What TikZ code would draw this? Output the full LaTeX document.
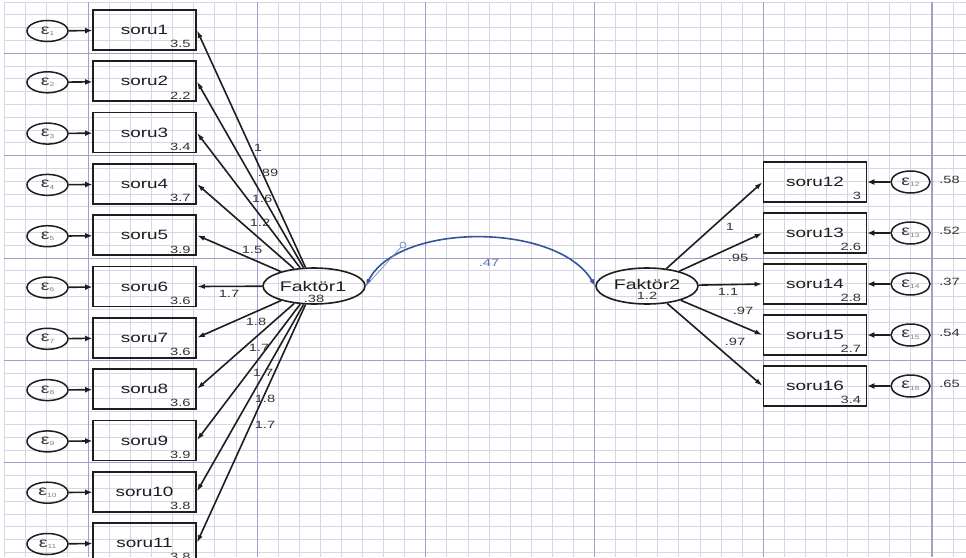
\documentclass[tikz,border=0pt]{standalone}
\usepackage{fontspec}
\setmainfont{Liberation Sans}[FakeStretch=1.4]
\usetikzlibrary{shapes.geometric,arrows.meta,calc}
\definecolor{gminorc}{HTML}{D6D6E8}
\definecolor{gmajorc}{HTML}{A0A0C8}
\definecolor{covblue}{HTML}{34559E}
\definecolor{ink}{HTML}{1E1E1E}
\definecolor{txt}{HTML}{333333}
\newcommand{\epsl}[1]{{\fontsize{14}{14}\selectfont ε}\raisebox{-1.5pt}{\fontsize{6}{6}\selectfont\color{black!50}#1}}
\begin{document}
\begin{tikzpicture}[x=1pt,y=-1pt,
  gminor/.style={draw=gminorc, line width=0.9pt},
  gmajor/.style={draw=gmajorc, line width=1.1pt},
  obs/.style={draw=ink, line width=1.7pt, minimum width=103pt, minimum height=40pt, inner sep=0pt, font=\fontsize{13.5}{14}\selectfont, text=ink},
  err/.style={ellipse, draw=ink, line width=1.5pt, minimum width=41pt, minimum height=21pt, inner sep=0pt, text=txt},
  lat/.style={ellipse, draw=ink, line width=1.6pt, minimum width=102pt, minimum height=36pt, inner sep=0pt},
  lattxt/.style={font=\fontsize{14}{14}\selectfont, text=ink, inner sep=0pt},
  num/.style={font=\fontsize{10.5}{10.5}\selectfont, text=txt, inner sep=0pt},
  lbl/.style={font=\fontsize{10.5}{10.5}\selectfont, text=txt, inner sep=0pt},
  lnk/.style={draw=ink, line width=1.6pt, -{Latex[length=8pt,width=5pt]}},
  elnk/.style={draw=ink, line width=1.6pt, -{Latex[length=7pt,width=6pt]}},
  cov/.style={draw=covblue, line width=1.6pt, {Latex[length=7pt,width=5pt]}-{Latex[length=7pt,width=5pt]}},
  covlbl/.style={font=\fontsize{10.5}{10.5}\selectfont, text=covblue!80, inner sep=0pt}]
\useasboundingbox (0,0) rectangle (966,557);
\fill[white] (0,0) rectangle (966,557);
% grid
\foreach \i in {0,...,45}{\draw[gminor] ({4.04+21.09*\i},2.1) -- ({4.04+21.09*\i},557);}
\foreach \j in {0,...,43}{\draw[gminor] (4.04,{2.1+12.8*\j}) -- (966,{2.1+12.8*\j});}
\foreach \i in {4,12,...,44}{\draw[gmajor] ({4.04+21.09*\i},2.1) -- ({4.04+21.09*\i},557);}
\foreach \j in {4,12,...,36}{\draw[gmajor] (4.04,{2.1+12.8*\j}) -- (966,{2.1+12.8*\j});}

% latent variables
\node[lat] (F1) at (314,286) {};
\node[lattxt] (F1t) at (313,286) {Faktör1};
\node[num] (F1v) at (314,299) {.38};
\node[lat] (F2) at (647,286) {};
\node[lattxt] (F2t) at (647,284.5) {Faktör2};
\node[num] (F2v) at (647,295.5) {1.2};

% left observed variables
\foreach \i/\v in {1/3.5,2/2.2,3/3.4,4/3.7,5/3.9,6/3.6,7/3.6,8/3.6,9/3.9,10/3.8,11/3.8}{
  \node[obs] (b\i) at (144.5,{30+51.3*(\i-1)}) {soru\i};
  \node[num, anchor=base east] (n\i) at ($(b\i.south east)+(-6,-3)$) {\v};
  \node[err] (e\i) at (47.5,{31+51.3*(\i-1)}) {\epsl{\i}};
  \draw[elnk] (e\i) -- (b\i);
  \draw[lnk] (F1) -- (b\i.east);
}

% right observed variables
\foreach \k/\v/\w [count=\c from 0] in {12/3/.58,13/2.6/.52,14/2.8/.37,15/2.7/.54,16/3.4/.65}{
  \node[obs] (b\k) at (815,{182+51*\c}) {soru\k};
  \node[num, anchor=base east] (n\k) at ($(b\k.south east)+(-6,-3)$) {\v};
  \node[err, minimum width=39pt, minimum height=22pt] (e\k) at (910.5,{182+51*\c}) {\epsl{\k}};
  \node[num] (w\k) at (949.5,{180+51*\c}) {\w};
  \draw[elnk] (e\k) -- (b\k);
  \draw[lnk] (F2) -- (b\k.west);
}

% loading labels
\foreach \px/\py/\t [count=\c] in {258/148/1, 268/173/.89, 262/199/1.6, 260/223/1.2, 252/250/1.5, 229/294/1.7, 256/322/1.8, 259/348/1.7, 263/373/1.7, 265/399/1.8, 265/425/1.7}{
  \node[lbl] (la\c) at (\px,\py) {\t};
}
\foreach \px/\py/\t [count=\c] in {730/227/1, 738/258/.95, 728/292/1.1, 743/311/.97, 735/342/.97}{
  \node[lbl] (lb\c) at (\px,\py) {\t};
}

% covariance
\draw[cov] (F1.east) .. controls (398,222) and (557,222) .. (F2.west);
\node[covlbl] (c47) at (489,263) {.47};
\node[circle, draw=covblue!70, line width=0.7pt, inner sep=0pt, minimum size=6pt] (h) at (403,245) {};
\draw[covblue!70, line width=0.7pt] (F1.east) -- (h);
\end{tikzpicture}
\end{document}
